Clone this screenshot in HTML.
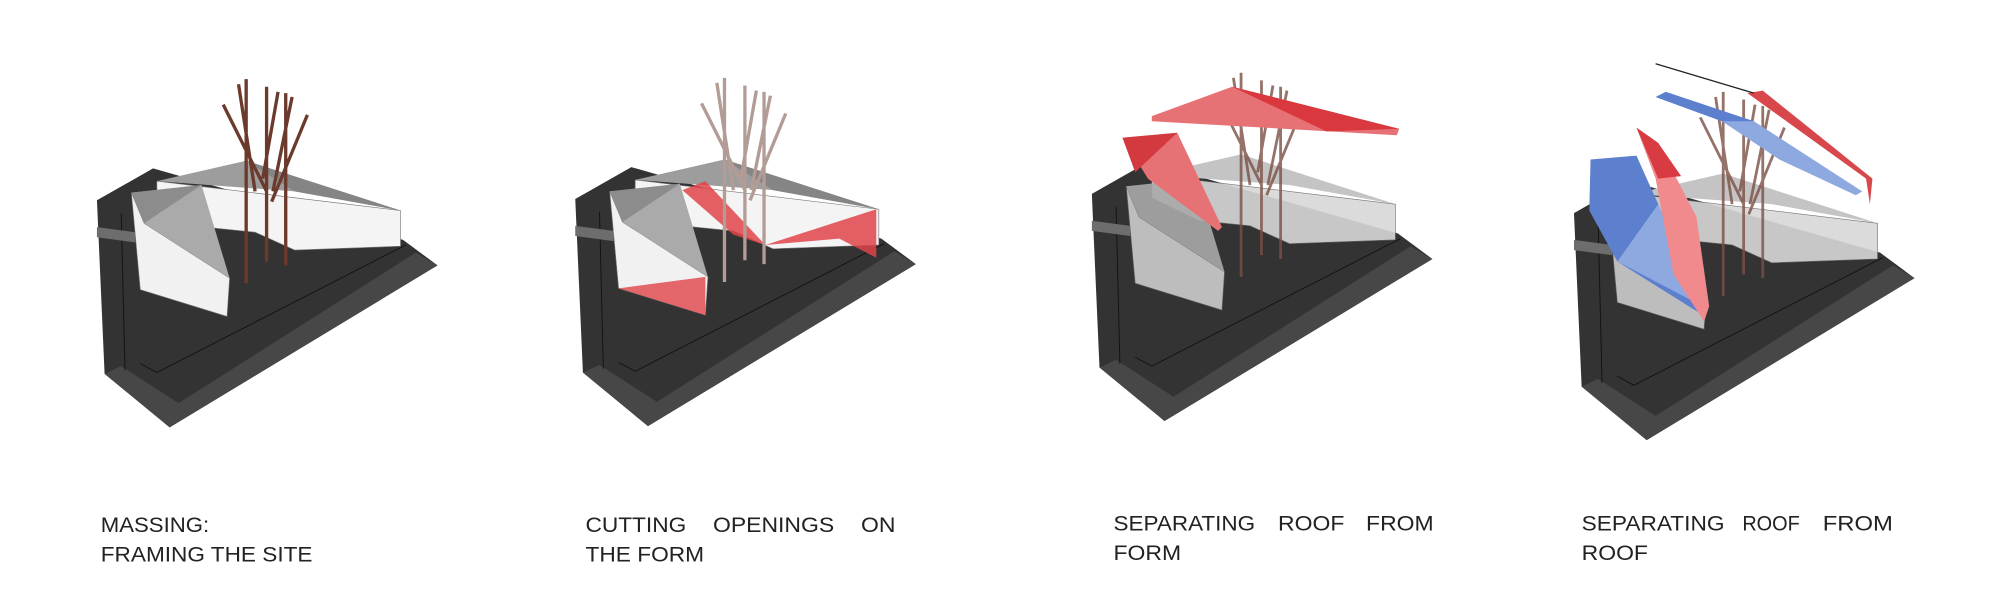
<!DOCTYPE html>
<html><head><meta charset="utf-8"><style>
html,body{margin:0;padding:0;background:#fff;}
svg{display:block}
text{font-family:"Liberation Sans",sans-serif;fill:#222;font-size:17px;}
</style></head><body>
<svg width="2000" height="592" viewBox="0 0 1568 464" preserveAspectRatio="none" xmlns="http://www.w3.org/2000/svg">
<defs>
<g id="site">
  <path d="M76,157 L120,132 L316,188 L343,208 L133,335 L82,293 Z" fill="#333"/>
  <path d="M95,287 L140,316 L326,198 L343,208 L133,335 L82,293 Z" fill="#474747"/>
  <path d="M95,167 L98,290 M110,285 L123,292 L318,192" stroke="#111" stroke-width="0.7" fill="none"/>
  <path d="M76,178 L106,182 L106,190 L76,186 Z" fill="#6d6d6d"/>
</g>
</defs>

<!-- Panel 1 -->
<use href="#site"/>
<path d="M123,142 L314,165 L314,193 L231,196 L200,182 L160,178 L123,160 Z" fill="#f4f4f4" stroke="#777" stroke-width="0.5"/>
<path d="M123,142 L193,126 L314,165 L231,150 Z" fill="#9d9d9d"/>
<path d="M193,126 L231,150 L314,165 Z" fill="#858585"/>
<path d="M103,151 L110,227 L178,248 L180,218 L113,175 Z" fill="#f1f1f1" stroke="#777" stroke-width="0.5"/>
<path d="M103,151 L158,145 L180,218 L113,175 Z" fill="#aaa"/>
<path d="M103,151 L158,145 L113,175 Z" fill="#8c8c8c"/>
<g stroke="#6b3a2c" stroke-width="2.6" fill="none">
<path d="M193,62 L193,222 M209,68 L209,205 M224,73 L224,208 M175,82 L209,150 M187,66 L200,150 M241,90 L213,158 M218,72 L206,140 M229,76 L214,150"/>
</g>

<!-- Panel 2 -->
<g transform="translate(375,-1)">
<use href="#site"/>
<path d="M123,142 L314,165 L314,193 L231,196 L200,182 L160,178 L123,160 Z" fill="#f4f4f4" stroke="#777" stroke-width="0.5"/>
<path d="M123,142 L193,126 L314,165 L231,150 Z" fill="#9d9d9d"/>
<path d="M193,126 L231,150 L314,165 Z" fill="#858585"/>
<path d="M160,150 L178,143 L225,193 L200,185 Z" fill="#e0444a" opacity="0.85"/>
<path d="M225,193 L312,165 L312,203 L283,188 Z" fill="#e0444a" opacity="0.85"/>
<path d="M103,151 L110,227 L178,248 L180,218 L113,175 Z" fill="#f1f1f1" stroke="#777" stroke-width="0.5"/>
<path d="M103,151 L158,145 L180,218 L113,175 Z" fill="#aaa"/>
<path d="M103,151 L158,145 L113,175 Z" fill="#8c8c8c"/>
<path d="M110,227 L178,218 L178,248 Z" fill="#e0444a" opacity="0.8"/>
<g stroke="#b29c95" stroke-width="2.6" fill="none">
<path d="M193,62 L193,222 M209,68 L209,205 M224,73 L224,208 M175,82 L209,150 M187,66 L200,150 M241,90 L213,158 M218,72 L206,140 M229,76 L214,150"/>
</g>
</g>

<!-- Panel 3 -->
<g transform="translate(780,-5)">
<use href="#site"/>
<path d="M123,142 L314,165 L314,193 L231,196 L200,182 L160,178 L123,160 Z" fill="#d8d8d8" stroke="#666" stroke-width="0.5" opacity="0.9"/>
<path d="M123,142 L193,126 L314,165 L231,150 Z" fill="#c4c4c4"/>
<path d="M103,151 L110,227 L178,248 L180,218 L113,175 Z" fill="#bdbdbd" stroke="#666" stroke-width="0.5"/>
<path d="M103,151 L158,145 L180,218 L113,175 Z" fill="#a8a8a8" opacity="0.9"/>
<g stroke="#7b5045" stroke-width="2.2" fill="none" opacity="0.8">
<path d="M193,62 L193,222 M209,68 L209,205 M224,73 L224,208 M175,82 L209,150 M187,66 L200,150 M241,90 L213,158 M218,72 L206,140 M229,76 L214,150"/>
</g>
</g>
<path d="M903,91 L966,68 L1097,101 L1095,106 L903,95 Z" fill="#e77275"/>
<path d="M966,68 L1097,101 L1040,103 Z" fill="#d8383e"/>
<path d="M880,108 L923,104 L958,178 L955,181 L900,140 Z" fill="#e77275"/>
<path d="M880,108 L923,104 L890,135 Z" fill="#d33a40"/>

<!-- Panel 4 -->
<g transform="translate(1158,10)">
<use href="#site"/>
<path d="M123,142 L314,165 L314,193 L231,196 L200,182 L160,178 L123,160 Z" fill="#d8d8d8" stroke="#666" stroke-width="0.5" opacity="0.9"/>
<path d="M123,142 L193,126 L314,165 L231,150 Z" fill="#c4c4c4"/>
<path d="M103,151 L110,227 L178,248 L180,218 L113,175 Z" fill="#bdbdbd" stroke="#666" stroke-width="0.5"/>
<g stroke="#7b5045" stroke-width="2.2" fill="none" opacity="0.8">
<path d="M193,62 L193,222 M209,68 L209,205 M224,73 L224,208 M175,82 L209,150 M187,66 L200,150 M241,90 L213,158 M218,72 L206,140 M229,76 L214,150"/>
</g>
</g>
<path d="M1247,125 L1283,122 L1300,160 L1335,240 L1332,245 L1268,205 L1246,165 Z" fill="#5c7fce"/>
<path d="M1268,205 L1300,160 L1335,240 Z" fill="#8ea8e0"/>
<path d="M1283,100 L1300,112 L1330,170 L1340,240 L1336,252 L1312,215 L1298,140 Z" fill="#f08a8c"/>
<path d="M1283,100 L1300,112 L1318,138 L1300,140 Z" fill="#d83c42"/>
<path d="M1298,76 L1306,72 L1375,95 L1460,150 L1455,153 L1395,125 L1350,95 Z" fill="#8ea8e0"/>
<path d="M1298,76 L1306,72 L1375,95 L1350,95 Z" fill="#5c7fce"/>
<path d="M1370,73 L1382,71 L1468,140 L1466,160 L1463,140 Z" fill="#d8474c"/>
<path d="M1298,50 L1375,73" stroke="#222" stroke-width="1"/>

<!-- Labels -->
<g>
<text x="79" y="417" textLength="85" lengthAdjust="spacingAndGlyphs">MASSING:</text>
<text x="79" y="440" textLength="166" lengthAdjust="spacingAndGlyphs">FRAMING THE SITE</text>

<text x="459" y="417" textLength="79" lengthAdjust="spacingAndGlyphs">CUTTING</text>
<text x="559" y="417" textLength="95" lengthAdjust="spacingAndGlyphs">OPENINGS</text>
<text x="675" y="417" textLength="27" lengthAdjust="spacingAndGlyphs">ON</text>
<text x="459" y="440" textLength="93" lengthAdjust="spacingAndGlyphs">THE FORM</text>

<text x="873" y="416" textLength="111" lengthAdjust="spacingAndGlyphs">SEPARATING</text>
<text x="1002" y="416" textLength="52" lengthAdjust="spacingAndGlyphs">ROOF</text>
<text x="1071" y="416" textLength="53" lengthAdjust="spacingAndGlyphs">FROM</text>
<text x="873" y="439" textLength="53" lengthAdjust="spacingAndGlyphs">FORM</text>

<text x="1240" y="416" textLength="112" lengthAdjust="spacingAndGlyphs">SEPARATING</text>
<text x="1366" y="416" textLength="45" lengthAdjust="spacingAndGlyphs">ROOF</text>
<text x="1429" y="416" textLength="55" lengthAdjust="spacingAndGlyphs">FROM</text>
<text x="1240" y="439" textLength="52" lengthAdjust="spacingAndGlyphs">ROOF</text>
</g>
</svg>
</body></html>
